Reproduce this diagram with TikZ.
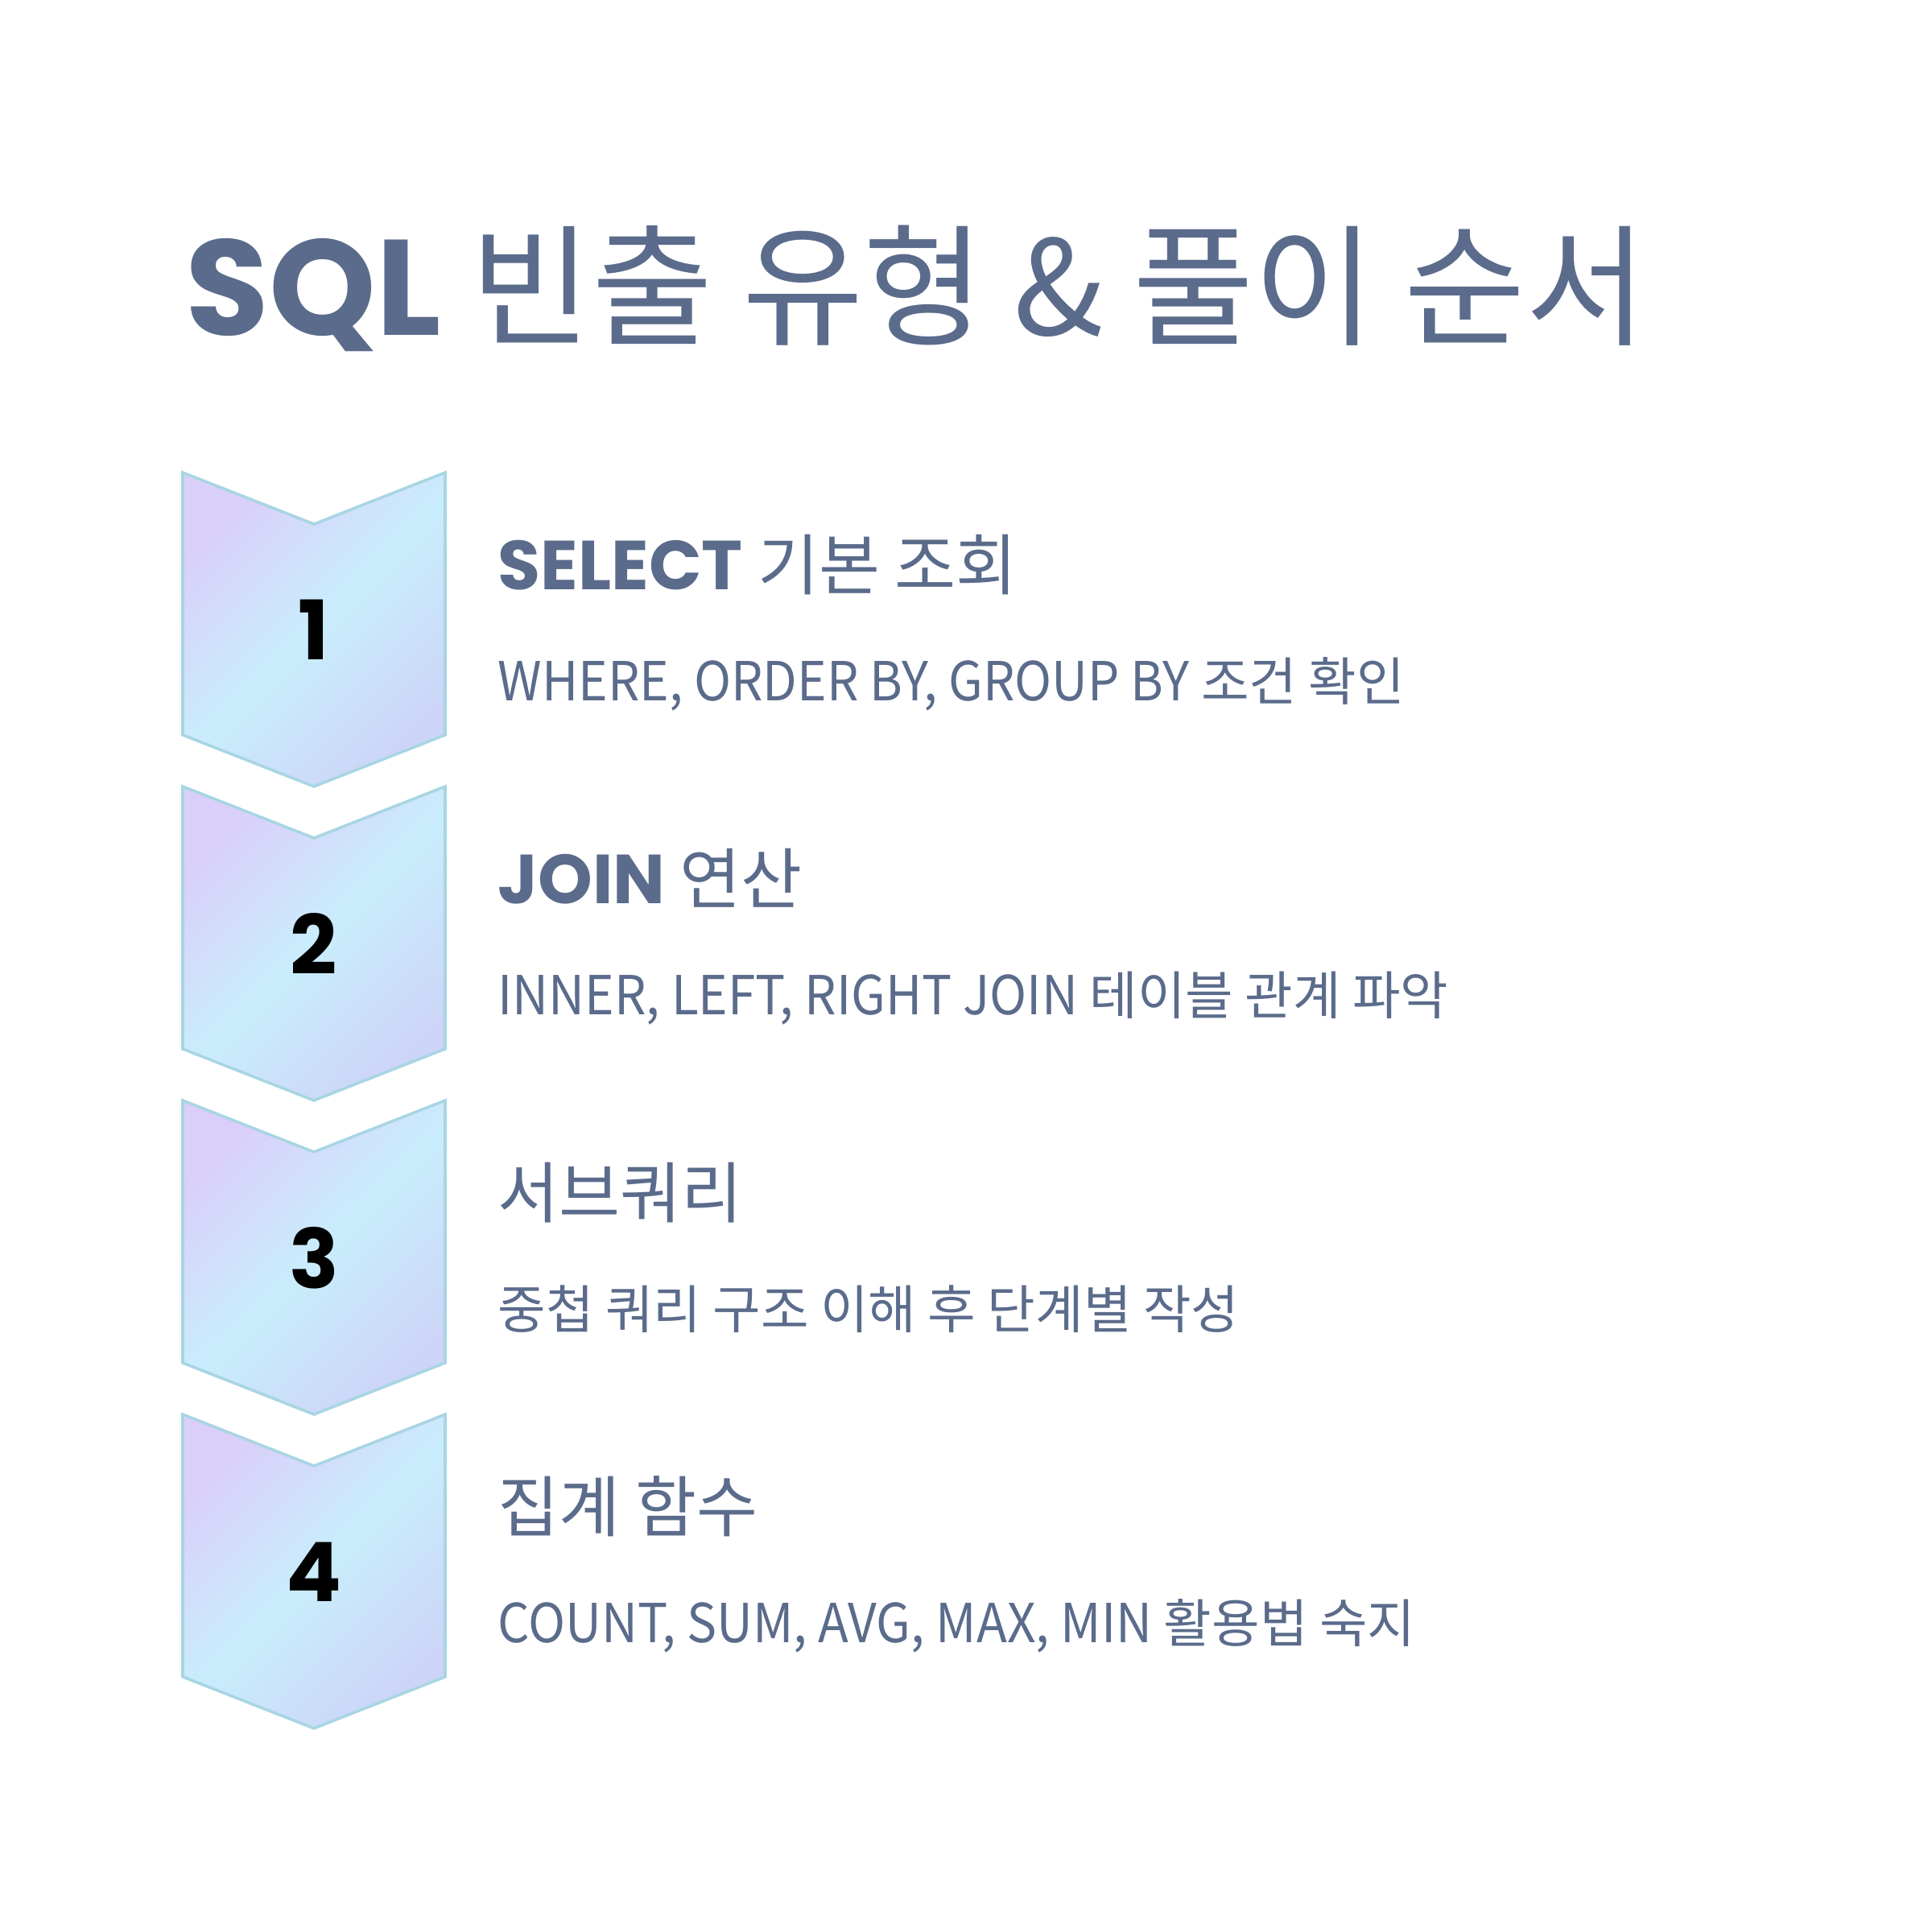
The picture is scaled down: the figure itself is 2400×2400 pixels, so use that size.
\documentclass[tikz,border=0pt]{standalone}
\usepackage{fontspec}
\setmainfont{Noto Sans CJK KR}
\newfontfamily\popfont{Poppins}
\newfontfamily\sublat{Noto Sans CJK KR}[FakeStretch=0.93]
\usetikzlibrary{positioning}

\definecolor{slate}{HTML}{5B6B8B}
\definecolor{lavtop}{HTML}{DACFF9}
\definecolor{cyanmid}{HTML}{C9EDFC}
\definecolor{blubot}{HTML}{CCD5F7}
\definecolor{chevline}{HTML}{A8D5E3}
\pgfdeclarehorizontalshading{chevshade}{100bp}{color(0bp)=(lavtop); color(25bp)=(lavtop); color(50bp)=(cyanmid); color(75bp)=(blubot); color(100bp)=(blubot)}

\begin{document}
\begin{tikzpicture}[x=0.01cm, y=-0.01cm, node distance=3.9cm]
% Define styles
\tikzstyle{chevron} = [draw=chevline, line width=1pt, line join=miter, shading=chevshade, shading angle=-45]
\tikzstyle{num} = [inner sep=0pt, text=black, font=\popfont\bfseries\fontsize{29}{35}\selectfont]
\tikzstyle{head} = [anchor=base west, inner sep=0pt, text=slate, font=\fontsize{23.5}{28}\selectfont]
\tikzstyle{sub} = [anchor=base west, inner sep=0pt, text=slate, font=\fontsize{18.4}{23}\selectfont]

\useasboundingbox (0,0) rectangle (2400,2400);

% Title
\node [anchor=base west, inner sep=0pt, text=slate, font=\fontsize{46.5}{56}\selectfont] (title) at (230,416) {{\popfont\bfseries\fontsize{48}{58}\selectfont SQL} 빈출 유형 \& 풀이 순서};

% Draw chevrons
\path [chevron] (227,587) -- (390,651) -- (553,587) -- (553,913) -- (390,977) -- (227,913) -- cycle;
\path [chevron, shift={(0,390)}] (227,587) -- (390,651) -- (553,587) -- (553,913) -- (390,977) -- (227,913) -- cycle;
\path [chevron, shift={(0,780)}] (227,587) -- (390,651) -- (553,587) -- (553,913) -- (390,977) -- (227,913) -- cycle;
\path [chevron, shift={(0,1170)}] (227,587) -- (390,651) -- (553,587) -- (553,913) -- (390,977) -- (227,913) -- cycle;

% Step numbers
\node [num] (n1) at (390,782) {1};
\node [num, below of=n1] (n2) {2};
\node [num, below of=n2] (n3) {3};
\node [num, below of=n3] (n4) {4};

% Step texts
\node [head] (h1) at (618,732) {{\popfont\bfseries\fontsize{24.5}{29}\selectfont SELECT} 기본 조회};
\node [sub] (s1) at (618,870) {{\sublat\fontsize{19}{23}\selectfont WHERE, ORDER BY, GROUP BY} 조건 확인};
\node [head] (h2) at (618,1122) {{\popfont\bfseries\fontsize{24.5}{29}\selectfont JOIN} 연산};
\node [sub] (s2) at (618,1260) {{\sublat\fontsize{19}{23}\selectfont INNER, LEFT, RIGHT JOIN} 테이블 관계 파악};
\node [head] (h3) at (618,1512) {서브쿼리};
\node [sub] (s3) at (618,1650) {중첩 쿼리 구조 이해 후 단계별 작성};
\node [head] (h4) at (618,1902) {집계 함수};
\node [sub] (s4) at (618,2040) {{\sublat\fontsize{19}{23}\selectfont COUNT, SUM, AVG, MAX, MIN} 활용법 숙지};
\end{tikzpicture}
\end{document}
